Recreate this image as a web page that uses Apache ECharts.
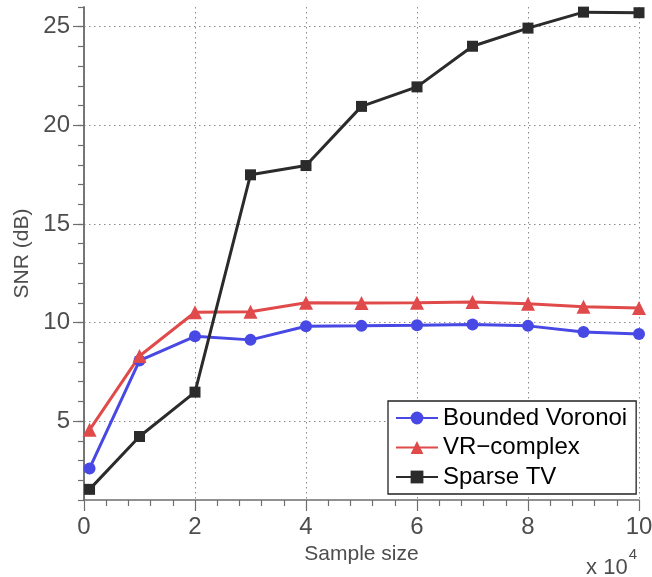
<!DOCTYPE html>
<html>
<head>
<meta charset="utf-8">
<script src="https://cdn.jsdelivr.net/npm/echarts@6/dist/echarts.min.js"></script>
<style>
html,body{margin:0;padding:0;background:#fff;}
#main{width:652px;height:577px;}
</style>
</head>
<body>
<div id="main"></div>
<script>
const sampleSize = [0.1, 1, 2, 3, 4, 5, 6, 7, 8, 9, 10];
const boundedVoronoi = [2.6, 8.07, 9.3, 9.12, 9.81, 9.83, 9.86, 9.9, 9.83, 9.52, 9.42];
const vrComplex = [4.56, 8.3, 10.52, 10.55, 11.0, 10.99, 11.0, 11.04, 10.95, 10.8, 10.74];
const sparseTV = [1.54, 4.22, 6.47, 17.49, 17.96, 20.96, 21.95, 24.01, 24.93, 25.74, 25.71];
const yTicks = [5, 10, 15, 20, 25];
const seriesNames = ['Bounded Voronoi', 'VR\u2212complex', 'Sparse TV'];

function pairs(ys) { return sampleSize.map((x, i) => [x, ys[i]]); }

const chart = echarts.init(document.getElementById('main'), null, {renderer: 'canvas'});
const axisColor = '#6e6e6e';
const labelColor = '#4d4d4d';
const gridLine = {show: true, lineStyle: {color: '#8a8a8a', type: [1.5, 3.5], width: 1}};
const font = 'Liberation Sans';

chart.setOption({
  animation: false,
  backgroundColor: '#fff',
  grid: {left: 84, right: 13, top: 7, bottom: 77, containLabel: false, outerBoundsMode: 'none'},
  xAxis: {
    type: 'value', min: 0, max: 10, interval: 2,
    name: 'Sample size', nameLocation: 'middle', nameGap: 42,
    nameTextStyle: {fontFamily: font, fontSize: 21, color: labelColor},
    axisLine: {show: true, onZero: false, lineStyle: {color: axisColor, width: 1.5}},
    axisTick: {show: true, inside: false, length: 11, lineStyle: {color: axisColor, width: 1.2}},
    minorTick: {show: true, splitNumber: 5, length: 6, lineStyle: {color: axisColor, width: 1.2}},
    axisLabel: {fontFamily: font, fontSize: 24, color: labelColor, margin: 15},
    splitLine: gridLine
  },
  yAxis: [{
    type: 'value', min: 1, max: 26, position: 'left',
    name: 'SNR (dB)', nameLocation: 'middle', nameGap: 50,
    nameTextStyle: {fontFamily: font, fontSize: 21, color: labelColor},
    axisLine: {show: true, onZero: false, lineStyle: {color: axisColor, width: 1.5}},
    axisTick: {show: true, inside: false, length: 11, customValues: yTicks, lineStyle: {color: axisColor, width: 1.2}},
    axisLabel: {fontFamily: font, fontSize: 24, color: labelColor, margin: 14, customValues: yTicks},
    splitLine: gridLine
  }, {
    type: 'value', min: 1, max: 26, interval: 1, position: 'left',
    axisLine: {show: true, onZero: false, lineStyle: {color: axisColor, width: 1.5}},
    axisTick: {show: true, inside: false, length: 6, lineStyle: {color: axisColor, width: 1.2}},
    axisLabel: {show: false},
    splitLine: {show: false}
  }],
  legend: {
    orient: 'vertical', left: 388, top: 401,
    padding: [5, 9, 5, 7], itemGap: 5.5, itemWidth: 42, itemHeight: 16,
    borderColor: '#222', borderWidth: 1.3, backgroundColor: '#fff',
    textStyle: {fontFamily: font, fontSize: 24, color: '#000', lineHeight: 24},
    data: seriesNames
  },
  series: [{
    name: seriesNames[0], type: 'line', data: pairs(boundedVoronoi),
    symbol: 'circle', symbolSize: 12,
    itemStyle: {color: '#4848e4'}, lineStyle: {color: '#4848e4', width: 3}
  }, {
    name: seriesNames[1], type: 'line', data: pairs(vrComplex),
    symbol: 'triangle', symbolSize: 14,
    itemStyle: {color: '#e04a4a'}, lineStyle: {color: '#e04a4a', width: 3}
  }, {
    name: seriesNames[2], type: 'line', data: pairs(sparseTV),
    symbol: 'rect', symbolSize: 11,
    itemStyle: {color: '#2b2b2b'}, lineStyle: {color: '#2b2b2b', width: 3}
  }],
  graphic: [{
    type: 'text', right: 15, top: 547,
    style: {
      text: '{a|x 10}{b|4}',
      rich: {
        a: {fontFamily: font, fontSize: 22, fill: labelColor, padding: [10, 0, 0, 0]},
        b: {fontFamily: font, fontSize: 15, fill: labelColor, verticalAlign: 'top', padding: [0, 0, 10, 1]}
      }
    }
  }]
});
</script>
</body>
</html>
